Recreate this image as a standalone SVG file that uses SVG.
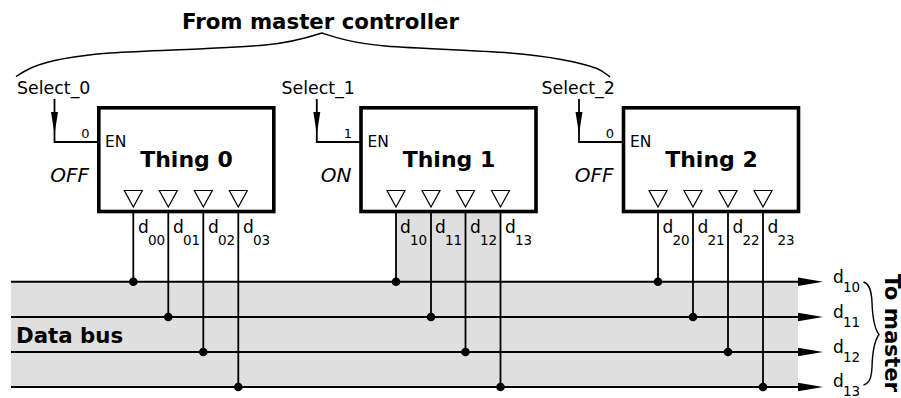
<svg xmlns="http://www.w3.org/2000/svg" width="901" height="398" viewBox="0 0 901 398">
<style>
text{font-family:"DejaVu Sans",sans-serif;fill:#000}
.b{font-weight:bold;font-size:21.300px}
.t{font-size:22px;font-weight:bold;text-anchor:middle}
.s{font-size:17.400px}
.e{font-size:15.500px}
.z{font-size:13px;text-anchor:end}
.i{font-size:20px;font-style:italic;text-anchor:end}
.d{font-size:17px}
.u{font-size:13.500px}
.box{fill:#fff;stroke:#000;stroke-width:3.600}
.tri{fill:#fff;stroke:#000;stroke-width:1.200}
.w{fill:none;stroke:#000;stroke-width:1.800}
.bus{fill:none;stroke:#000;stroke-width:2}
.cur{fill:none;stroke:#000;stroke-width:1.400}
</style>
<defs>
<path id="tris" class="tri" d="M-9 0H9L0 16.500Z"/>
</defs>
<rect x="11" y="282" width="787" height="105" fill="#dfdfdf"/>
<rect x="396" y="213" width="105" height="69" fill="#dfdfdf"/>
<g id="connectors">
<path class="bus" d="M11 281.700H815M11 317H815M11 352H815M11 387H815"/>
<path class="w" d="M133.300 213V281.700M168.300 213V317M203.300 213V352M238.300 213V387"/>
<path class="w" d="M396 213V281.700M431 213V317M465.500 213V352M500.500 213V387"/>
<path class="w" d="M658 213V281.700M693 213V317M728 213V352M763 213V387"/>
<g fill="#000">
<circle cx="133.300" cy="281.700" r="4.300"/><circle cx="168.300" cy="317" r="4.300"/><circle cx="203.300" cy="352" r="4.300"/><circle cx="238.300" cy="387" r="4.300"/>
<circle cx="396" cy="281.700" r="4.300"/><circle cx="431" cy="317" r="4.300"/><circle cx="465.500" cy="352" r="4.300"/><circle cx="500.500" cy="387" r="4.300"/>
<circle cx="658" cy="281.700" r="4.300"/><circle cx="693" cy="317" r="4.300"/><circle cx="728" cy="352" r="4.300"/><circle cx="763" cy="387" r="4.300"/>
<path d="M798 277.500L823 281.700L798 286ZM798 312.800L823 317L798 321.200ZM798 347.800L823 352L798 356.200ZM798 382.800L823 387L798 391.200Z"/>
</g>
<path class="w" d="M54.500 99V142H98"/>
<path d="M51 112H58L54.500 134Z" fill="#000"/>
<path class="w" d="M316.800 99V142H361"/>
<path d="M313.300 112H320.300L316.800 134Z" fill="#000"/>
<path class="w" d="M579 99V142H623"/>
<path d="M575.500 112H582.500L579 134Z" fill="#000"/>
<path class="cur" d="M16 76.500C21 73.500 26 70 32 67.500C45 62 70 56 110 53C165 50 225 48.500 265 45C290 43 308 37.500 322 33C336 37.500 352 43 385 46C425 49 470 50 510 53C540 55.500 570 59 597 68.500C603 71 606 74 610 77"/>
<path class="cur" d="M863.500 282C870 284 871.500 292 872 302C872.500 318 874 328 879 334.500C874 341 872.500 351 872 367C871.500 377 870 383 863.500 385"/>
</g>
<g id="thing0">
<rect class="box" x="98.800" y="107.800" width="175" height="103.700"/>
<text class="t" x="186.500" y="167">Thing 0</text>
<text class="e" x="105" y="147">EN</text>
<text class="z" x="89.500" y="138">0</text>
<text class="i" x="89" y="182">OFF</text>
<use href="#tris" x="133.300" y="190.500"/><use href="#tris" x="168.300" y="190.500"/><use href="#tris" x="203.300" y="190.500"/><use href="#tris" x="238.300" y="190.500"/>
</g>
<g id="thing1">
<rect class="box" x="361" y="107.800" width="175" height="103.700"/>
<text class="t" x="449" y="167">Thing 1</text>
<text class="e" x="367.500" y="147">EN</text>
<text class="z" x="352" y="138">1</text>
<text class="i" x="351.500" y="182">ON</text>
<use href="#tris" x="396" y="190.500"/><use href="#tris" x="431" y="190.500"/><use href="#tris" x="465.500" y="190.500"/><use href="#tris" x="500.500" y="190.500"/>
</g>
<g id="thing2">
<rect class="box" x="623.500" y="107.800" width="175" height="103.700"/>
<text class="t" x="711.500" y="167">Thing 2</text>
<text class="e" x="630" y="147">EN</text>
<text class="z" x="614" y="138">0</text>
<text class="i" x="613.500" y="182">OFF</text>
<use href="#tris" x="658" y="190.500"/><use href="#tris" x="693" y="190.500"/><use href="#tris" x="728" y="190.500"/><use href="#tris" x="763" y="190.500"/>
</g>
<g id="labels">
<text class="b" x="320.500" y="28.500" text-anchor="middle">From master controller</text>
<text class="s" x="17" y="94">Select_0</text>
<text class="s" x="281.500" y="94">Select_1</text>
<text class="s" x="541.500" y="94">Select_2</text>
<text class="b" x="16" y="343">Data bus</text>
<text class="b" transform="translate(884.500 274) rotate(90)">To master</text>
</g>
<g id="signals">
<text class="d" x="138" y="233">d</text><text class="u" x="148" y="244.500">00</text>
<text class="d" x="173" y="233">d</text><text class="u" x="183" y="244.500">01</text>
<text class="d" x="208" y="233">d</text><text class="u" x="218" y="244.500">02</text>
<text class="d" x="243" y="233">d</text><text class="u" x="253" y="244.500">03</text>
<text class="d" x="400" y="233">d</text><text class="u" x="410" y="244.500">10</text>
<text class="d" x="435" y="233">d</text><text class="u" x="445" y="244.500">11</text>
<text class="d" x="470" y="233">d</text><text class="u" x="480" y="244.500">12</text>
<text class="d" x="505" y="233">d</text><text class="u" x="515" y="244.500">13</text>
<text class="d" x="662.500" y="233">d</text><text class="u" x="672.500" y="244.500">20</text>
<text class="d" x="697.500" y="233">d</text><text class="u" x="707.500" y="244.500">21</text>
<text class="d" x="732.500" y="233">d</text><text class="u" x="742.500" y="244.500">22</text>
<text class="d" x="767.500" y="233">d</text><text class="u" x="777.500" y="244.500">23</text>
<text class="d" x="833" y="283">d</text><text class="u" x="843" y="292">10</text>
<text class="d" x="833" y="317.500">d</text><text class="u" x="843" y="327">11</text>
<text class="d" x="833" y="352.500">d</text><text class="u" x="843" y="362">12</text>
<text class="d" x="833" y="387">d</text><text class="u" x="843" y="395.500">13</text>
</g>
</svg>
